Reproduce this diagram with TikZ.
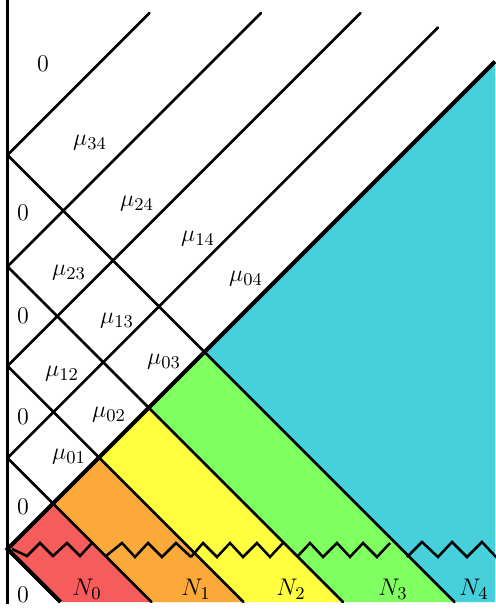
\documentclass[tikz,border=0pt]{standalone}
\definecolor{cred}{RGB}{246,92,92}
\definecolor{corange}{RGB}{251,170,58}
\definecolor{cyellow}{RGB}{255,255,64}
\definecolor{cgreen}{RGB}{128,255,96}
\definecolor{ccyan}{RGB}{69,208,220}
\begin{document}
\begin{tikzpicture}[x=0.5pt,y=-0.5pt,
  thinln/.style={line width=1.25pt,line cap=round},
  thickln/.style={line width=2.1pt},
  wallln/.style={line width=1.8pt},
  zig/.style={line width=1.25pt,line join=miter},
  lab/.style={inner sep=0pt,font=\fontsize{12.5}{15}\selectfont}]
\useasboundingbox (0,0) rectangle (495,612);
% wall points
\coordinate (W0) at (7.5,549);
\coordinate (W1) at (7.5,458);
\coordinate (W2) at (7.5,366);
\coordinate (W3) at (7.5,266.5);
\coordinate (W4) at (7.5,155);
% points on the thick diagonal
\coordinate (T1) at (53,503.5);
\coordinate (T2) at (99,457.5);
\coordinate (T3) at (148.75,407.75);
\coordinate (T4) at (204.5,352);
\coordinate (TR) at (495,61.5);
% bottom points
\coordinate (B0) at (60.5,602);
\coordinate (B1) at (151.5,602);
\coordinate (B2) at (243.5,602);
\coordinate (B3) at (343,602);
\coordinate (B4) at (454.5,602);
\coordinate (BR) at (495,602);
% top ends of thin up-right lines
\coordinate (E1) at (438,27.5);
\coordinate (E2) at (360.5,13);
\coordinate (E3) at (261,13);
\coordinate (E4) at (149.5,13);
\coordinate (WT) at (7.5,0);
\coordinate (WB) at (7.5,604);
% fills
\fill[cred] (W0) -- (T1) -- (B1) -- (B0) -- cycle;
\fill[corange] (T1) -- (T2) -- (B2) -- (B1) -- cycle;
\fill[cyellow] (T2) -- (T3) -- (B3) -- (B2) -- cycle;
\fill[cgreen] (T3) -- (T4) -- (B4) -- (B3) -- cycle;
\fill[ccyan] (T4) -- (TR) -- (BR) -- (B4) -- cycle;
% thin lines
\draw[thinln] (W1) -- (E1);
\draw[thinln] (W2) -- (E2);
\draw[thinln] (W3) -- (E3);
\draw[thinln] (W4) -- (E4);
\draw[thinln] (W1) -- (T1) -- (B1);
\draw[thinln] (W2) -- (T2) -- (B2);
\draw[thinln] (W3) -- (T3) -- (B3);
\draw[thinln] (W4) -- (T4) -- (B4);
% thick lines
\draw[thickln] (B0) -- (W0) -- (TR);
\draw[wallln] (WT) -- (WB);
% zigzags
\draw[zig] (12,549) -- (27,556) -- (40,543) -- (53,556) -- (67,543) -- (80,556) -- (92,543);
\draw[zig] (106,556) -- (122,543) -- (135,557) -- (148,543) -- (162,557) -- (176,543) -- (191,557);
\draw[zig] (191,557) -- (203,543) -- (217,557) -- (230,543) -- (243,557) -- (257,543) -- (270,557) -- (283,543);
\draw[zig] (297,557) -- (310,543) -- (323,557) -- (337,543) -- (350,557) -- (363,543) -- (377,557) -- (390,543);
\draw[zig] (407,557) -- (422,542) -- (438,557) -- (452,542) -- (467,557) -- (482,542) -- (497,558);
% labels
\node[lab] (z0) at (43,64) {$0$};
\node[lab] (m34) at (90,143) {$\mu_{34}$};
\node[lab] (z1) at (23,213) {$0$};
\node[lab] (m24) at (137,204) {$\mu_{24}$};
\node[lab] (m14) at (198,239) {$\mu_{14}$};
\node[lab] (m04) at (246,279) {$\mu_{04}$};
\node[lab] (m23) at (69,273) {$\mu_{23}$};
\node[lab] (z2) at (23,316) {$0$};
\node[lab] (m13) at (117,321) {$\mu_{13}$};
\node[lab] (m03) at (164,362) {$\mu_{03}$};
\node[lab] (m12) at (62,374) {$\mu_{12}$};
\node[lab] (z3) at (23,417) {$0$};
\node[lab] (m02) at (109,415) {$\mu_{02}$};
\node[lab] (m01) at (69,457) {$\mu_{01}$};
\node[lab] (z4) at (23,507) {$0$};
\node[lab] (z5) at (23,595) {$0$};
\node[lab] (n0) at (87,589) {$N_0$};
\node[lab] (n1) at (196,589) {$N_1$};
\node[lab] (n2) at (291,589) {$N_2$};
\node[lab] (n3) at (393,589) {$N_3$};
\node[lab] (n4) at (474,589) {$N_4$};
\end{tikzpicture}
\end{document}
